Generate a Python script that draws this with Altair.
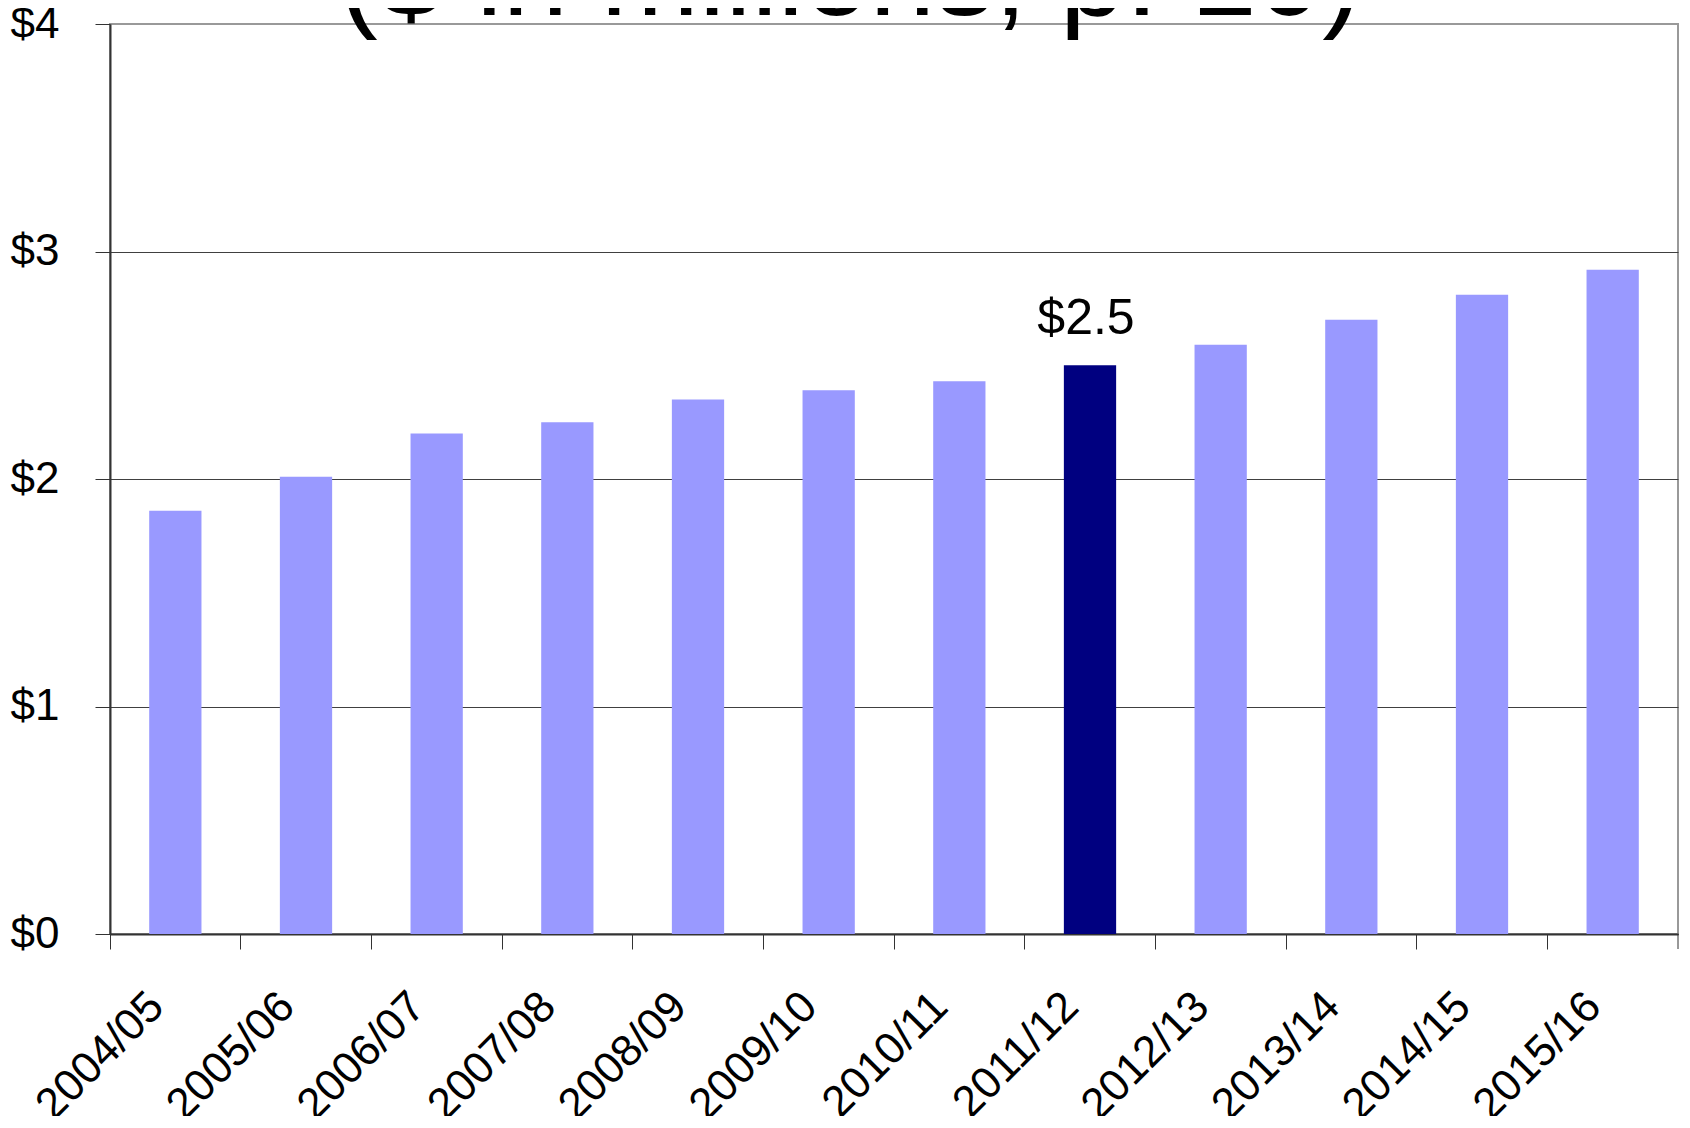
import altair as alt
import pandas as pd

years = ["2004/05", "2005/06", "2006/07", "2007/08", "2008/09", "2009/10",
         "2010/11", "2011/12", "2012/13", "2013/14", "2014/15", "2015/16"]
values = [1.86, 2.01, 2.20, 2.25, 2.35, 2.39, 2.43, 2.50, 2.59, 2.70, 2.81, 2.92]
highlight = ["no", "no", "no", "no", "no", "no", "no", "yes", "no", "no", "no", "no"]
labels = ["", "", "", "", "", "", "", "$2.5", "", "", "", ""]
y_ticks = [0, 1, 2, 3, 4]
title_text = "($ in millions, p. 10)"

df = pd.DataFrame({"year": years, "value": values, "hl": highlight, "label": labels})
tdf = pd.DataFrame({"t": [title_text]})

FONT = "Liberation Sans"
W, H = 1568, 910

x_enc = alt.X(
    "year:N", sort=years,
    scale=alt.Scale(paddingInner=0, paddingOuter=0),
    axis=alt.Axis(title=None, labelAngle=-45, labelAlign="right", labelBaseline="top",
                  bandPosition=0, tickSize=15, labelPadding=35, labelOffset=-34,
                  grid=False, domainWidth=2, labelOverlap=False, labelFontSize=44),
)
y_enc = alt.Y(
    "value:Q",
    scale=alt.Scale(domain=[0, 4], nice=False),
    axis=alt.Axis(title=None, values=y_ticks, labelExpr="'$' + datum.value", grid=True,
                  gridColor={"condition": {"test": "datum.value == 4", "value": "#999999"},
                             "value": "#404040"},
                  tickSize=15, labelPadding=36, domainWidth=2, labelFontSize=44),
)

bars = alt.Chart(df).mark_bar(width=alt.RelativeBandSize(0.4)).encode(
    x=x_enc,
    y=y_enc,
    color=alt.Color("hl:N", scale=alt.Scale(domain=["no", "yes"], range=["#9999FF", "#000080"]),
                    legend=None),
)

label = alt.Chart(df).transform_filter("datum.label != ''").mark_text(
    font=FONT, fontSize=50, color="black", baseline="alphabetic", dx=-4, dy=-31
).encode(
    x=alt.X("year:N", sort=years),
    y=alt.Y("value:Q"),
    text="label:N",
)

title = alt.Chart(tdf).mark_text(
    font=FONT, fontSize=118, color="black", baseline="alphabetic", align="center"
).encode(text="t:N", x=alt.value(740), y=alt.value(-9))

last_tick = alt.Chart(tdf).mark_rule(color="#333333", strokeWidth=1).encode(
    x=alt.value(W), y=alt.value(H), y2=alt.value(H + 15)
)

chart = alt.layer(bars, label, last_tick, title).properties(
    width=W, height=H,
    autosize=alt.AutoSizeParams(type="none"),
    padding={"left": 102, "top": 16, "right": 2, "bottom": 182},
).configure_view(
    stroke="#999999", strokeWidth=2
).configure_axis(
    labelFont=FONT, labelColor="black", domainColor="#333333", tickColor="#333333",
    gridWidth=1, tickWidth=1
)

chart.save("out.html", embed_options={"renderer": "svg", "actions": False})
